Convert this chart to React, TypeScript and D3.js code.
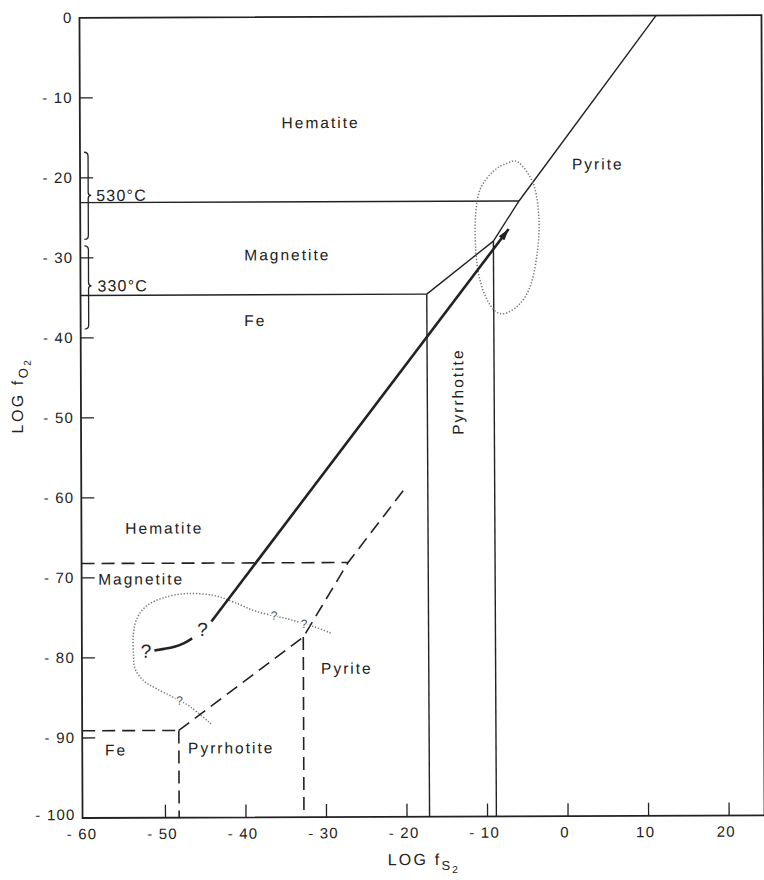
import * as d3 from 'd3';
import { useEffect, useRef } from 'react';

type Pt = [number, number];

const xTicks = [-60, -50, -40, -30, -20, -10, 0, 10, 20];
const yTicks = [0, -10, -20, -30, -40, -50, -60, -70, -80, -90, -100];

// higher temperature diagram (solid)
const hemMagHigh: Pt[] = [[-60.3, -23.1], [-5.8, -23.1]];
const magFeHigh: Pt[] = [[-60.3, -34.7], [-17.3, -34.7]];
const fePoHigh: Pt[] = [[-17.3, -34.7], [-17.2, -100]];
const magPoHigh: Pt[] = [[-17.3, -34.7], [-9.0, -28.1]];
const poPyHigh: Pt[] = [[-9.0, -28.1], [-8.9, -100]];
const pyriteHigh: Pt[] = [[-9.0, -28.1], [-5.8, -23.1], [11.3, 0]];

// lower temperature diagram (dashed)
const hemMagLow: Pt[] = [[-60.3, -68.2], [-27.2, -68.2]];
const magFeLow: Pt[] = [[-60.3, -89.1], [-48.3, -89.1]];
const fePoLow: Pt[] = [[-48.3, -89.1], [-48.3, -100]];
const sulfideLow: Pt[] = [[-48.3, -89.1], [-32.8, -77.5], [-27.2, -68.2], [-19.9, -58.7]];
const poPyLow: Pt[] = [[-32.8, -77.5], [-32.8, -100]];

// fluid path
const arrowPath: Pt[] = [[-44.2, -75.5], [-7.1, -26.6]];
const earlyPath: Pt[] = [[-51.3, -79.1], [-50.1, -78.9], [-48.8, -78.65], [-47.6, -78.2], [-46.6, -77.6]];

// dotted field outlines
const ellipseField: Pt[] = [
  [-5.8, -18.3], [-4.0, -21.0], [-3.35, -25.0], [-3.5, -29.1], [-4.35, -33.5], [-5.8, -36.0],
  [-7.9, -37.2], [-9.5, -36.0], [-10.7, -32.9], [-11.2, -29.1], [-11.2, -24.8], [-10.6, -21.6],
  [-9.0, -19.4], [-7.3, -18.4],
];
const loopField: Pt[] = [
  [-29.4, -77.0], [-31.5, -76.2], [-34.8, -75.2], [-38.5, -74.3], [-41.4, -73.1], [-43.9, -72.25],
  [-47.2, -72.0], [-50.1, -72.5], [-52.2, -73.5], [-53.4, -75.0], [-53.9, -77.0], [-53.9, -79.5],
  [-53.7, -81.4], [-52.6, -82.9], [-51.0, -83.9], [-48.9, -85.0], [-46.8, -86.2], [-44.3, -88.3],
];

const braces = [
  { top: -16.8, tip: -22.2, bottom: -27.7 },
  { top: -28.5, tip: -33.5, bottom: -38.9 },
];

const labels = [
  { text: 'Hematite', x: -30.4, y: -13.9 },
  { text: 'Magnetite', x: -34.6, y: -30.4 },
  { text: 'Fe', x: -38.6, y: -38.6 },
  { text: 'Pyrite', x: 4.0, y: -19.2 },
  { text: 'Hematite', x: -50.0, y: -64.5 },
  { text: 'Magnetite', x: -52.9, y: -70.85 },
  { text: 'Pyrite', x: -27.4, y: -82.1 },
  { text: 'Fe', x: -56.1, y: -92.2 },
  { text: 'Pyrrhotite', x: -41.8, y: -92.0 },
];
const tempLabels = [
  { text: '530°C', x: -58.3, y: -22.9 },
  { text: '330°C', x: -58.2, y: -34.2 },
];
const bigQueries: Pt[] = [[-52.35, -79.2], [-45.3, -76.5]];
const smallQueries: Pt[] = [[-36.4, -74.8], [-32.7, -75.85], [-48.2, -85.4]];

export default function App() {
  const svgRef = useRef<SVGSVGElement>(null);

  useEffect(() => {
    const svg = d3.select(svgRef.current);
    svg.selectAll('*').remove();

    const x = d3.scaleLinear().domain([-60.3, 24.4]).range([81, 763]);
    const y = d3.scaleLinear().domain([-100, 0]).range([816.7, 16.5]);
    const font = 'Liberation Sans, Arial, sans-serif';
    const ink = '#222';

    svg.append('defs').append('marker')
      .attr('id', 'head')
      .attr('viewBox', '0 0 10 6')
      .attr('refX', 10).attr('refY', 3)
      .attr('markerUnits', 'userSpaceOnUse')
      .attr('markerWidth', 15).attr('markerHeight', 7)
      .attr('orient', 'auto')
      .append('path').attr('d', 'M0,0L10,3L0,6Z').attr('fill', ink);

    // the scan is very slightly tilted
    const g = svg.append('g').attr('transform', 'rotate(-0.22, 422, 417)');

    const line = d3.line<Pt>().x(d => x(d[0])).y(d => y(d[1]));

    // frame
    g.append('rect')
      .attr('x', x(-60.3)).attr('y', y(0))
      .attr('width', x(24.4) - x(-60.3)).attr('height', y(-100) - y(0))
      .attr('fill', 'none').attr('stroke', ink).attr('stroke-width', 1.8);

    // ticks
    g.selectAll('.yt').data(yTicks.filter(t => t !== 0 && t !== -100)).join('line')
      .attr('x1', x(-60.3)).attr('x2', x(-60.3) + 13)
      .attr('y1', d => y(d)).attr('y2', d => y(d))
      .attr('stroke', ink).attr('stroke-width', 1.3);
    g.selectAll('.xt').data(xTicks.filter(t => t !== -60)).join('line')
      .attr('x1', d => x(d)).attr('x2', d => x(d))
      .attr('y1', y(-100)).attr('y2', y(-100) - 13)
      .attr('stroke', ink).attr('stroke-width', 1.3);

    g.selectAll('.yl').data(yTicks).join('text')
      .attr('x', 74).attr('y', d => (d === -100 ? y(d) + 2 : y(d) + 5))
      .attr('text-anchor', 'end')
      .attr('font-family', font).attr('font-size', 15).attr('letter-spacing', 1.2)
      .attr('fill', ink)
      .text(d => String(d).replace('-', '- '));
    g.selectAll('.xl').data(xTicks).join('text')
      .attr('x', d => x(d) - 3).attr('y', 838)
      .attr('text-anchor', 'middle')
      .attr('font-family', font).attr('font-size', 15).attr('letter-spacing', 1.2)
      .attr('fill', ink)
      .text(d => String(d).replace('-', '- '));

    // axis titles
    const xt = g.append('text').attr('x', 386).attr('y', 865)
      .attr('font-family', font).attr('font-size', 16).attr('letter-spacing', 2.2).attr('fill', ink);
    xt.append('tspan').text('LOG f');
    xt.append('tspan').attr('dy', 5).attr('font-size', 13).text('S');
    xt.append('tspan').attr('dy', 3).attr('font-size', 10).text('2');

    const yt = g.append('text').attr('transform', 'translate(23, 394) rotate(-90)')
      .attr('text-anchor', 'middle')
      .attr('font-family', font).attr('font-size', 16).attr('letter-spacing', 2.5).attr('fill', ink);
    yt.append('tspan').text('LOG f');
    yt.append('tspan').attr('dy', 5).attr('font-size', 13).text('O');
    yt.append('tspan').attr('dy', 3).attr('font-size', 10).text('2');

    // solid boundaries
    [hemMagHigh, magFeHigh, fePoHigh, magPoHigh, poPyHigh, pyriteHigh].forEach(p => {
      g.append('path').datum(p).attr('d', line)
        .attr('fill', 'none').attr('stroke', ink).attr('stroke-width', 1.4);
    });

    // dashed boundaries
    [hemMagLow, magFeLow, fePoLow, sulfideLow, poPyLow].forEach(p => {
      g.append('path').datum(p).attr('d', line)
        .attr('fill', 'none').attr('stroke', ink).attr('stroke-width', 1.6)
        .attr('stroke-dasharray', '13 7');
    });

    // dotted fields
    g.append('path').datum(ellipseField)
      .attr('d', d3.line<Pt>().x(d => x(d[0])).y(d => y(d[1])).curve(d3.curveCardinalClosed))
      .attr('fill', 'none').attr('stroke', '#777').attr('stroke-width', 1.5)
      .attr('stroke-dasharray', '1.3 1.8');
    g.append('path').datum(loopField)
      .attr('d', d3.line<Pt>().x(d => x(d[0])).y(d => y(d[1])).curve(d3.curveCardinal))
      .attr('fill', 'none').attr('stroke', '#777').attr('stroke-width', 1.5)
      .attr('stroke-dasharray', '1.3 1.8');

    // fluid path
    g.append('path').datum(arrowPath).attr('d', line)
      .attr('fill', 'none').attr('stroke', ink).attr('stroke-width', 2.6)
      .attr('marker-end', 'url(#head)');
    g.append('path').datum(earlyPath)
      .attr('d', d3.line<Pt>().x(d => x(d[0])).y(d => y(d[1])).curve(d3.curveNatural))
      .attr('fill', 'none').attr('stroke', ink).attr('stroke-width', 2.6);

    // braces for temperature
    braces.forEach(b => {
      const bx = x(-59.3);
      const t = y(b.top), m = y(b.tip), e = y(b.bottom);
      g.append('path')
        .attr('d', `M${bx - 4},${t}Q${bx},${t} ${bx},${t + 4}L${bx},${m - 3}Q${bx},${m} ${bx + 3},${m}` +
          `Q${bx},${m} ${bx},${m + 3}L${bx},${e - 4}Q${bx},${e} ${bx - 4},${e}`)
        .attr('fill', 'none').attr('stroke', ink).attr('stroke-width', 1.3);
    });

    // labels
    g.selectAll('.lab').data(labels).join('text')
      .attr('x', d => x(d.x)).attr('y', d => y(d.y))
      .attr('text-anchor', 'middle')
      .attr('font-family', font).attr('font-size', 15.5).attr('letter-spacing', 2)
      .attr('fill', ink)
      .text(d => d.text);
    g.selectAll('.tmp').data(tempLabels).join('text')
      .attr('x', d => x(d.x)).attr('y', d => y(d.y))
      .attr('font-family', font).attr('font-size', 16).attr('letter-spacing', 1.2)
      .attr('fill', ink)
      .text(d => d.text);
    g.append('text')
      .attr('transform', `translate(${x(-13.5)}, ${y(-46.9)}) rotate(-90)`)
      .attr('text-anchor', 'middle').attr('dominant-baseline', 'central')
      .attr('font-family', font).attr('font-size', 15.5).attr('letter-spacing', 2)
      .attr('fill', ink)
      .text('Pyrrhotite');

    // question marks
    g.selectAll('.bq').data(bigQueries).join('text')
      .attr('x', d => x(d[0])).attr('y', d => y(d[1]))
      .attr('text-anchor', 'middle').attr('dominant-baseline', 'central')
      .attr('font-family', font).attr('font-size', 19)
      .attr('fill', ink).attr('stroke', '#fff').attr('stroke-width', 3).attr('paint-order', 'stroke')
      .text('?');
    g.selectAll('.sq').data(smallQueries).join('text')
      .attr('x', d => x(d[0])).attr('y', d => y(d[1]))
      .attr('text-anchor', 'middle').attr('dominant-baseline', 'central')
      .attr('font-family', font).attr('font-size', 12)
      .attr('fill', '#555').attr('stroke', '#fff').attr('stroke-width', 2.5).attr('paint-order', 'stroke')
      .text('?');
  }, []);

  return (
    <svg
      ref={svgRef}
      width={764}
      height={880}
      style={{ position: 'absolute', left: 0, top: 0, display: 'block', background: '#fff' }}
    />
  );
}
